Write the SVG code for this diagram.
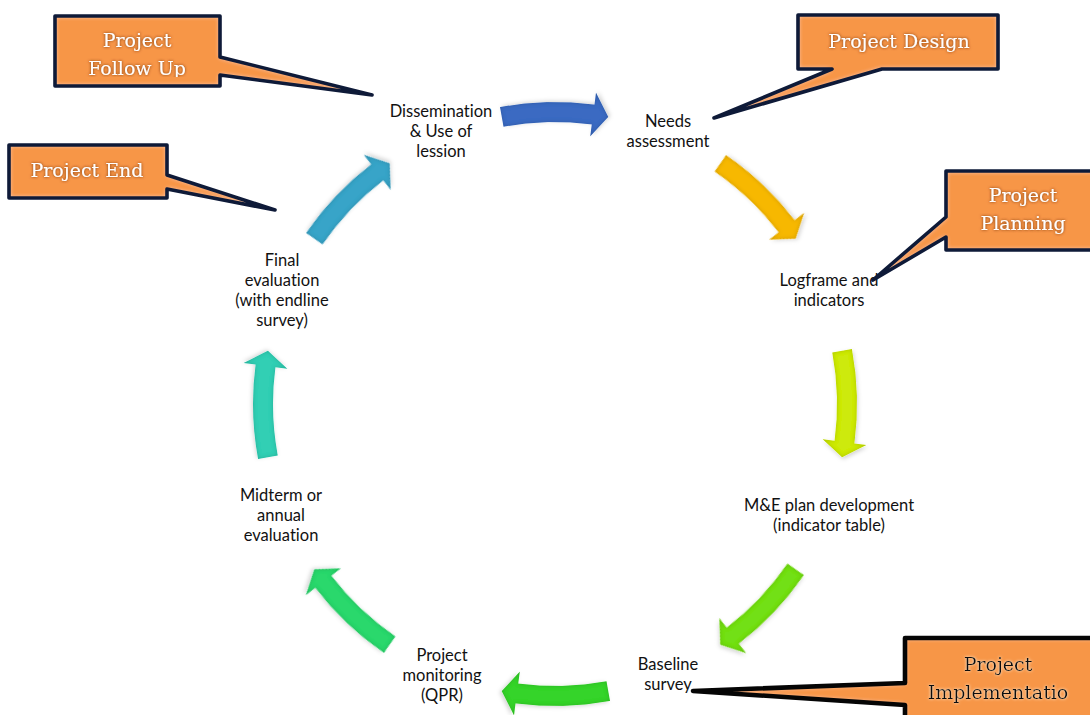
<svg xmlns="http://www.w3.org/2000/svg" xmlns:xlink="http://www.w3.org/1999/xlink" width="1090" height="715" viewBox="0 0 1090 715">
  <style>
    .lbl { font-family: Lato, "Open Sans", "Liberation Sans", sans-serif; font-size: 16.5px; fill: #111; text-anchor: middle; font-variant-ligatures: none; }
    .co-fill { fill: #f79646; filter: url(#innerGlow); }
    .co-line { fill: none; stroke: #0e1a38; stroke-width: 3.6; stroke-linejoin: round; }
    .co-line.dark { stroke: #050505; stroke-width: 4.6; }
    .co-txt { font-family: "DejaVu Serif", "Liberation Serif", serif; font-size: 19px; fill: #fff; text-anchor: middle; filter: url(#warmHalo); }
    .co-txt.dark { fill: #111; filter: url(#lightHalo); }
    .arrow { filter: url(#bevel); }
  </style>
  <defs>
    <!-- one curved block arrow on the cycle ring (centre 555,404, radius 292), pointing clockwise at 0 deg -->
    <path id="ringArrow" d="M851.94,348.96 A302,302 0 0 1 854.41,443.42 L866.31,444.99 L842.11,457.21 L822.69,439.24 L834.59,440.81 A282,282 0 0 0 832.28,352.61 Z"/>
    <filter id="bevel" x="-20%" y="-20%" width="140%" height="140%">
      <feGaussianBlur in="SourceAlpha" stdDeviation="2.2" result="blur"/>
      <feComposite in="SourceAlpha" in2="blur" operator="arithmetic" k2="1" k3="-1" result="rim"/>
      <feFlood flood-color="#000" flood-opacity="0.35"/>
      <feComposite in2="rim" operator="in" result="rimShade"/>
      <feOffset in="blur" dx="1" dy="1.5" result="off"/>
      <feFlood flood-color="#000" flood-opacity="0.18"/>
      <feComposite in2="off" operator="in" result="shadow"/>
      <feMerge><feMergeNode in="shadow"/><feMergeNode in="SourceGraphic"/><feMergeNode in="rimShade"/></feMerge>
    </filter>
    <filter id="innerGlow" x="-5%" y="-5%" width="110%" height="110%">
      <feGaussianBlur in="SourceAlpha" stdDeviation="2.5" result="b"/>
      <feComposite in="SourceAlpha" in2="b" operator="arithmetic" k2="1" k3="-1" result="rim"/>
      <feFlood flood-color="#ffe0c0" flood-opacity="0.95"/>
      <feComposite in2="rim" operator="in" result="g"/>
      <feMerge><feMergeNode in="SourceGraphic"/><feMergeNode in="g"/></feMerge>
    </filter>
    <filter id="warmHalo" x="-10%" y="-30%" width="120%" height="160%">
      <feDropShadow dx="0" dy="0" stdDeviation="1.4" flood-color="#6a2c00" flood-opacity="0.9"/>
    </filter>
    <filter id="lightHalo" x="-10%" y="-30%" width="120%" height="160%">
      <feDropShadow dx="0" dy="0" stdDeviation="1.4" flood-color="#fff3e0" flood-opacity="1"/>
    </filter>
    <clipPath id="followClip"><rect x="55" y="16" width="165" height="61"/></clipPath>
  </defs>

  <rect width="1090" height="715" fill="#fff"/>

  <!-- cycle arrows -->
  <g id="connectors">
    <use xlink:href="#ringArrow" class="arrow" fill="#3a6bc2" transform="rotate(-90 555 404)"/>
    <use xlink:href="#ringArrow" class="arrow" fill="#f7b800" transform="rotate(-45 555 404)"/>
    <use xlink:href="#ringArrow" class="arrow" fill="#cdea10"/>
    <use xlink:href="#ringArrow" class="arrow" fill="#72e016" transform="rotate(45 555 404)"/>
    <use xlink:href="#ringArrow" class="arrow" fill="#35d42a" transform="rotate(90 555 404)"/>
    <use xlink:href="#ringArrow" class="arrow" fill="#2ad86c" transform="rotate(135 555 404)"/>
    <use xlink:href="#ringArrow" class="arrow" fill="#30cfb4" transform="rotate(180 555 404)"/>
    <use xlink:href="#ringArrow" class="arrow" fill="#38a4c8" transform="rotate(225 555 404)"/>
  </g>

  <!-- cycle steps -->
  <g id="n-dissemination">
    <text class="lbl" x="441" y="117">Dissemination</text>
    <text class="lbl" x="441" y="137">&amp; Use of</text>
    <text class="lbl" x="441" y="157">lession</text>
  </g>
  <g id="n-needs">
    <text class="lbl" x="668" y="127">Needs</text>
    <text class="lbl" x="668" y="147">assessment</text>
  </g>
  <g id="n-logframe">
    <text class="lbl" x="829" y="286">Logframe and</text>
    <text class="lbl" x="829" y="306">indicators</text>
  </g>
  <g id="n-meplan">
    <text class="lbl" x="829" y="511">M&amp;E plan development</text>
    <text class="lbl" x="829" y="531">(indicator table)</text>
  </g>
  <g id="n-baseline">
    <text class="lbl" x="668" y="670">Baseline</text>
    <text class="lbl" x="668" y="690">survey</text>
  </g>
  <g id="n-monitoring">
    <text class="lbl" x="442" y="661">Project</text>
    <text class="lbl" x="442" y="681">monitoring</text>
    <text class="lbl" x="442" y="701">(QPR)</text>
  </g>
  <g id="n-midterm">
    <text class="lbl" x="281" y="501">Midterm or</text>
    <text class="lbl" x="281" y="521">annual</text>
    <text class="lbl" x="281" y="541">evaluation</text>
  </g>
  <g id="n-final">
    <text class="lbl" x="282" y="266">Final</text>
    <text class="lbl" x="282" y="286">evaluation</text>
    <text class="lbl" x="282" y="306">(with endline</text>
    <text class="lbl" x="282" y="326">survey)</text>
  </g>

  <!-- phase callouts -->
  <g id="c-followup">
    <path class="co-fill" d="M55,16 H220 V57 L372,95 L220,75 V86 H55 Z"/>
    <path class="co-line" d="M55,16 H220 V57 L372,95 L220,75 V86 H55 Z"/>
    <g clip-path="url(#followClip)">
      <text class="co-txt" x="137" y="47">Project</text>
      <text class="co-txt" x="137" y="75">Follow Up</text>
    </g>
  </g>
  <g id="c-end">
    <path class="co-fill" d="M9,145 H167 V175 L275,210 L167,189 V198 H9 Z"/>
    <path class="co-line" d="M9,145 H167 V175 L275,210 L167,189 V198 H9 Z"/>
    <text class="co-txt" x="87" y="177">Project End</text>
  </g>
  <g id="c-design">
    <path class="co-fill" d="M798,15 H998 V69 H882 L714,118 L832,69 H798 Z"/>
    <path class="co-line" d="M798,15 H998 V69 H882 L714,118 L832,69 H798 Z"/>
    <text class="co-txt" x="899" y="48">Project Design</text>
  </g>
  <g id="c-planning">
    <path class="co-fill" d="M946,171 H1096 V250 H946 V237 L873,280 L946,217 Z"/>
    <path class="co-line" d="M946,171 H1096 V250 H946 V237 L873,280 L946,217 Z"/>
    <text class="co-txt" x="1023" y="202">Project</text>
    <text class="co-txt" x="1023" y="230">Planning</text>
  </g>
  <g id="c-implementation">
    <path class="co-fill" d="M905,638 H1096 V722 H905 V705 L693,691 L905,683 Z"/>
    <path class="co-line dark" d="M905,638 H1096 V722 H905 V705 L693,691 L905,683 Z"/>
    <text class="co-txt dark" x="998" y="671">Project</text>
    <text class="co-txt dark" x="998" y="699">Implementatio</text>
  </g>
</svg>
